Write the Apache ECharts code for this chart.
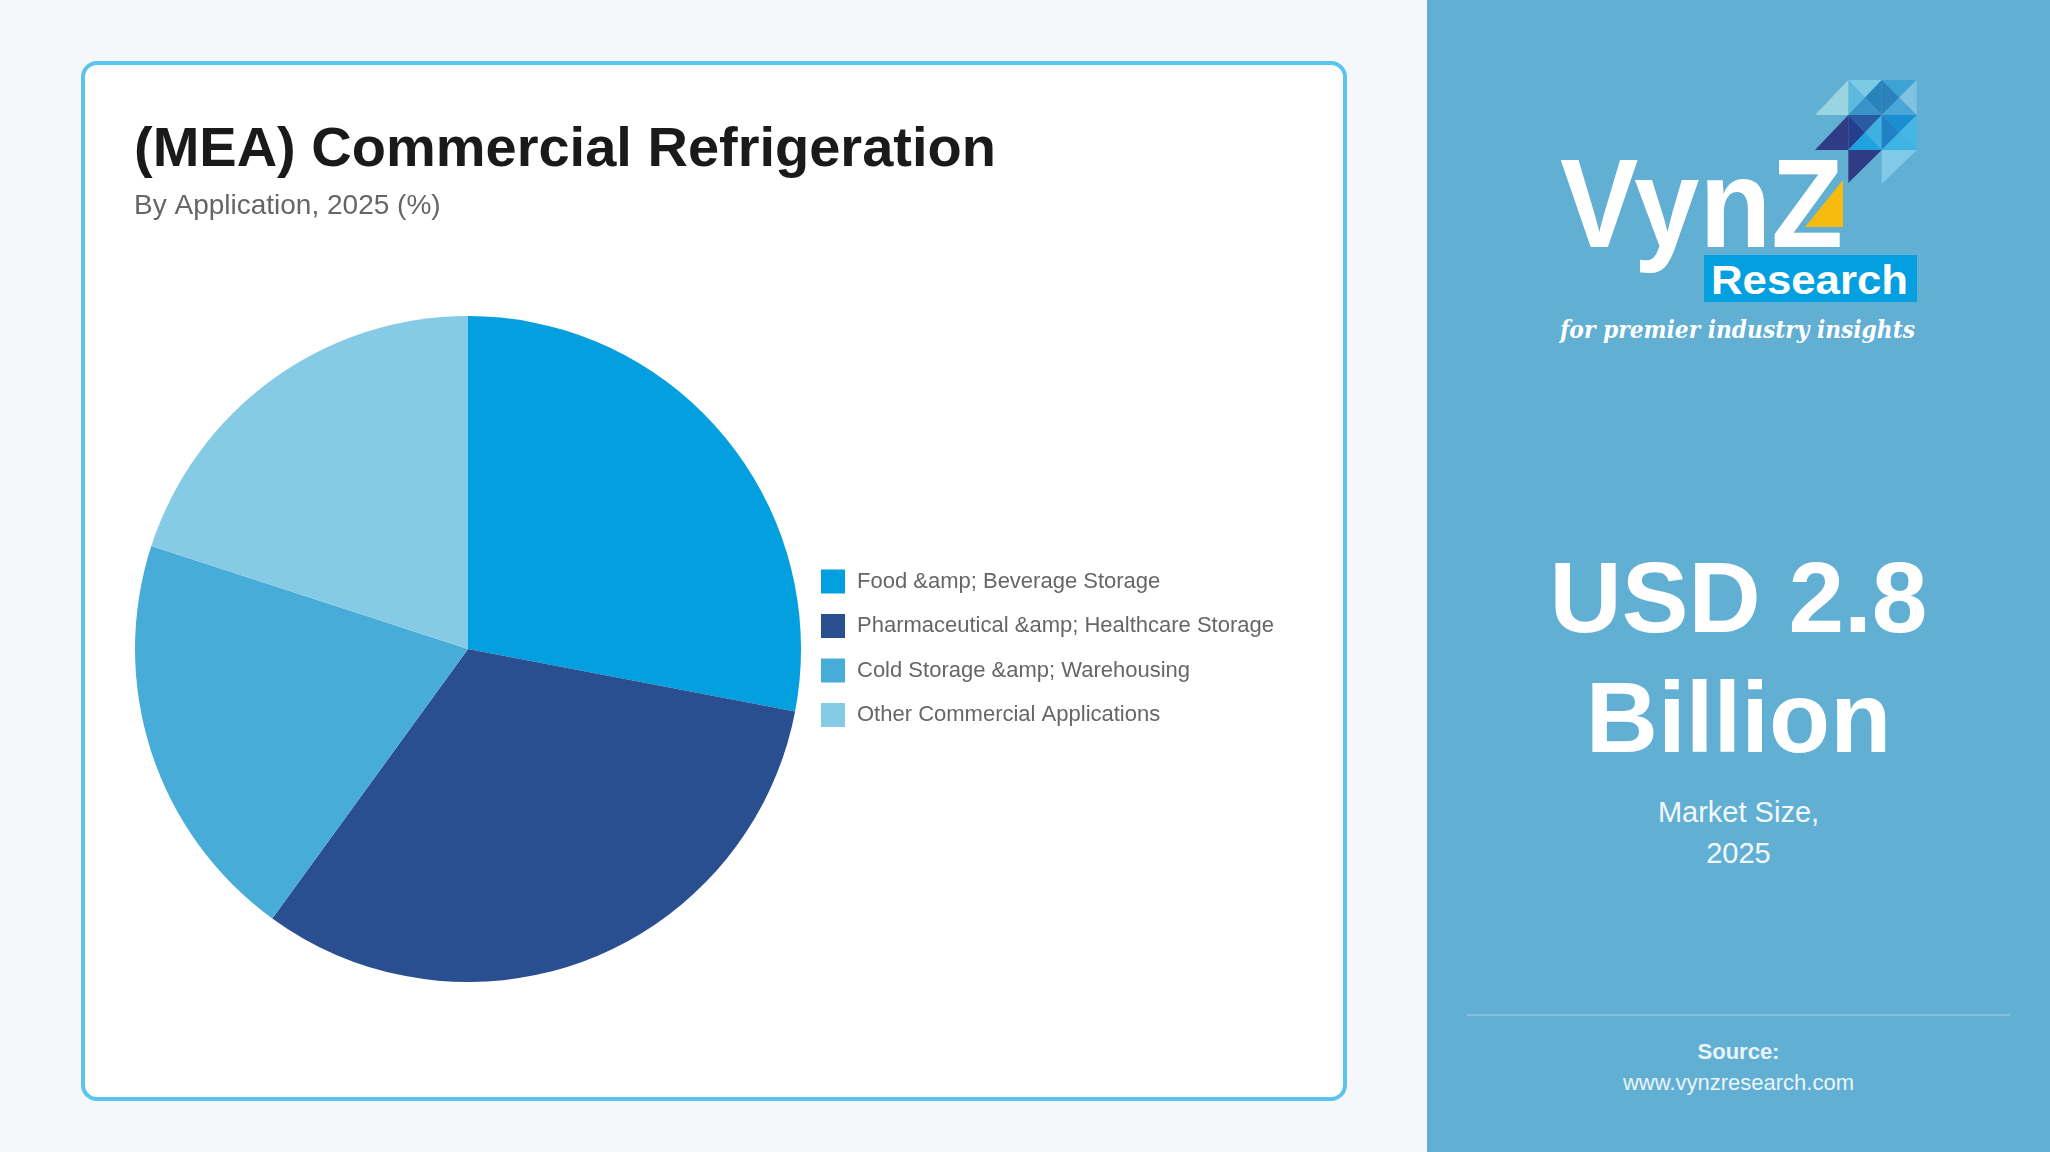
<!DOCTYPE html>
<html>
<head>
<meta charset="utf-8">
<title>(MEA) Commercial Refrigeration</title>
<script src="https://cdn.jsdelivr.net/npm/echarts@6/dist/echarts.min.js"></script>
<style>
  html, body { margin: 0; padding: 0; }
  body { width: 2050px; height: 1152px; background: #f5f8fb; position: relative; overflow: hidden;
         font-family: "Liberation Sans", Arial, Helvetica, sans-serif; }
  #card { position: absolute; left: 81px; top: 61px; width: 1258px; height: 1032px;
          background: #fff; border: 4px solid #5bc4ee; border-radius: 16px; }
  #panel { position: absolute; left: 1427px; top: 0; width: 623px; height: 1152px; background: #62afd4; }
  #chart { position: absolute; left: 0; top: 0; width: 2050px; height: 1152px; }
  .pt { position: absolute; left: 0; width: 623px; text-align: center; color: #fff; }
  #big { top: 537px; font-size: 100px; font-weight: bold; line-height: 120px; }
  #size { top: 792px; font-size: 29px; line-height: 41px; color: #f2f9fd; }
  #rule { position: absolute; left: 40px; width: 543px; top: 1014px; height: 2px; background: rgba(255,255,255,0.22); }
  #src { top: 1036px; font-size: 22px; line-height: 31px; color: #eaf5fb; }
  #logo { position: absolute; left: 0; top: 0; }
</style>
</head>
<body>
<div id="card"></div>
<div id="panel">
  <svg id="logo" width="623" height="400" viewBox="1427 0 623 400">
    <g id="mosaic"></g>
    <polygon points="1805,227 1843,180 1843,227" fill="#f7bb10"/>
    <text x="1560" y="247" font-family="Liberation Sans, Arial, sans-serif" font-weight="bold" font-size="126"
          fill="#fff" textLength="283" lengthAdjust="spacingAndGlyphs">VynZ</text>
    <rect x="1704" y="255" width="213" height="47" fill="#039fde"/>
    <text x="1711" y="294" font-family="Liberation Sans, Arial, sans-serif" font-weight="bold" font-size="41"
          fill="#fff" textLength="197" lengthAdjust="spacingAndGlyphs">Research</text>
    <text x="1560" y="338" font-family="DejaVu Serif, serif" font-style="italic" font-weight="bold" font-size="25"
          fill="#fff" textLength="355" lengthAdjust="spacingAndGlyphs">for premier industry insights</text>
  </svg>
  <div class="pt" id="big">USD 2.8<br>Billion</div>
  <div class="pt" id="size">Market Size,<br>2025</div>
  <div id="rule"></div>
  <div class="pt" id="src"><b>Source:</b><br>www.vynzresearch.com</div>
</div>
<div id="chart"></div>
<script>
  const categories = ['Food &amp; Beverage Storage', 'Pharmaceutical &amp; Healthcare Storage', 'Cold Storage &amp; Warehousing', 'Other Commercial Applications'];
  const shares = [28, 32, 20, 20];
  const sliceColors = ['#039fdf', '#2a4f91', '#48acd9', '#86cbe5'];

  // logo mosaic: cells split by both diagonals, colours top/left/right/bottom
  const mosaicCells = [
    [1848.3, 80, 1881.7, 115, ['#7ccbe4', '#5cb8dc', '#2a82bb', '#3a93c8']],
    [1881.7, 80, 1916.7, 115, ['#3da2d5', '#2c80bb', '#7fc3e3', '#4aa6d8']],
    [1848.3, 115, 1881.7, 150, ['#2a5aa2', '#233f8d', '#3fb0e2', '#1ea3e0']],
    [1881.7, 115, 1916.7, 150, ['#1a8ed0', '#2081c4', '#45b5e5', '#3fb3e3']]
  ];
  const mosaicTris = [
    ['1815,115 1848.3,80 1848.3,115', '#9ad4e0'],
    ['1815,150 1848.3,115 1848.3,150', '#2f3b85'],
    ['1848.3,150 1881.7,150 1848.3,183', '#2f3b85'],
    ['1881.7,150 1916.7,150 1881.7,184', '#80c9e8']
  ];

  (function () {
    const g = document.getElementById('mosaic');
    const ns = 'http://www.w3.org/2000/svg';
    function tri(pts, fill) {
      const p = document.createElementNS(ns, 'polygon');
      p.setAttribute('points', pts);
      p.setAttribute('fill', fill);
      g.appendChild(p);
    }
    mosaicCells.forEach(([x0, y0, x1, y1, c]) => {
      const cx = (x0 + x1) / 2, cy = (y0 + y1) / 2;
      tri(`${x0},${y0} ${x1},${y0} ${cx},${cy}`, c[0]);
      tri(`${x0},${y0} ${x0},${y1} ${cx},${cy}`, c[1]);
      tri(`${x1},${y0} ${x1},${y1} ${cx},${cy}`, c[2]);
      tri(`${x0},${y1} ${x1},${y1} ${cx},${cy}`, c[3]);
    });
    mosaicTris.forEach(([pts, fill]) => tri(pts, fill));
  })();

  const chart = echarts.init(document.getElementById('chart'));
  const font = '"Liberation Sans", Arial, Helvetica, sans-serif';

  chart.setOption({
    animation: false,
    title: {
      text: '(MEA) Commercial Refrigeration',
      subtext: 'By Application, 2025 (%)',
      left: 134,
      top: 119,
      padding: 0,
      itemGap: 7,
      textStyle: { fontFamily: font, fontSize: 56, fontWeight: 'bold', color: '#1a1a1a', lineHeight: 64 },
      subtextStyle: { fontFamily: font, fontSize: 28, color: '#666', lineHeight: 32 }
    },
    legend: {
      orient: 'vertical',
      left: 821,
      top: 569.5,
      padding: 0,
      icon: 'rect',
      itemWidth: 24,
      itemHeight: 24,
      itemGap: 20.5,
      data: categories,
      textStyle: { fontFamily: font, fontSize: 22, color: '#666', padding: [0, 0, 0, 7] }
    },
    series: [{
      type: 'pie',
      center: [468, 649],
      radius: 333,
      startAngle: 90,
      clockwise: true,
      label: { show: false },
      labelLine: { show: false },
      emphasis: { disabled: true },
      data: categories.map((name, i) => ({ name: name, value: shares[i], itemStyle: { color: sliceColors[i] } }))
    }]
  });
</script>
</body>
</html>
